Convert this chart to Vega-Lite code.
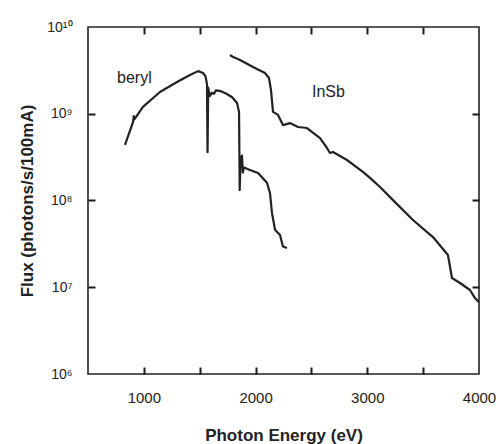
{
  "$schema": "https://vega.github.io/schema/vega-lite/v6.json",
  "width": 391,
  "height": 347,
  "autosize": "none",
  "padding": {"left": 88, "top": 27, "right": 17, "bottom": 70},
  "background": "white",
  "config": {
    "view": {"stroke": "#222", "strokeWidth": 1.6},
    "font": "Liberation Sans",
    "axis": {"grid": false, "domain": false, "ticks": true, "tickColor": "#1a1a1a", "tickWidth": 2, "tickSize": 7, "offset": -7, "labelColor": "#222", "titleColor": "#222", "labelFont": "Liberation Sans", "titleFont": "Liberation Sans"}
  },
  "datasets": {
    "curves": [
      {"series": "beryl", "energy": 831, "flux": 4.37e8},
      {"series": "beryl", "energy": 903, "flux": 8.0e8},
      {"series": "beryl", "energy": 910, "flux": 9.4e8},
      {"series": "beryl", "energy": 915, "flux": 8.6e8},
      {"series": "beryl", "energy": 992, "flux": 1.2e9},
      {"series": "beryl", "energy": 1144, "flux": 1.78e9},
      {"series": "beryl", "energy": 1297, "flux": 2.32e9},
      {"series": "beryl", "energy": 1413, "flux": 2.8e9},
      {"series": "beryl", "energy": 1485, "flux": 3.1e9},
      {"series": "beryl", "energy": 1530, "flux": 2.95e9},
      {"series": "beryl", "energy": 1552, "flux": 2.7e9},
      {"series": "beryl", "energy": 1565, "flux": 2.2e9},
      {"series": "beryl", "energy": 1570, "flux": 3.6e8},
      {"series": "beryl", "energy": 1576, "flux": 2.0e9},
      {"series": "beryl", "energy": 1590, "flux": 1.6e9},
      {"series": "beryl", "energy": 1610, "flux": 1.75e9},
      {"series": "beryl", "energy": 1628, "flux": 1.7e9},
      {"series": "beryl", "energy": 1646, "flux": 1.86e9},
      {"series": "beryl", "energy": 1690, "flux": 1.82e9},
      {"series": "beryl", "energy": 1740, "flux": 1.7e9},
      {"series": "beryl", "energy": 1790, "flux": 1.55e9},
      {"series": "beryl", "energy": 1834, "flux": 1.33e9},
      {"series": "beryl", "energy": 1852, "flux": 1.05e9},
      {"series": "beryl", "energy": 1858, "flux": 1.32e8},
      {"series": "beryl", "energy": 1866, "flux": 3.0e8},
      {"series": "beryl", "energy": 1878, "flux": 3.3e8},
      {"series": "beryl", "energy": 1886, "flux": 2.1e8},
      {"series": "beryl", "energy": 1896, "flux": 2.4e8},
      {"series": "beryl", "energy": 1950, "flux": 2.25e8},
      {"series": "beryl", "energy": 2022, "flux": 2.07e8},
      {"series": "beryl", "energy": 2102, "flux": 1.6e8},
      {"series": "beryl", "energy": 2129, "flux": 1.22e8},
      {"series": "beryl", "energy": 2147, "flux": 7.2e7},
      {"series": "beryl", "energy": 2174, "flux": 4.6e7},
      {"series": "beryl", "energy": 2219, "flux": 4.0e7},
      {"series": "beryl", "energy": 2245, "flux": 2.95e7},
      {"series": "beryl", "energy": 2281, "flux": 2.83e7},
      {"series": "InSb", "energy": 1771, "flux": 4.75e9},
      {"series": "InSb", "energy": 1800, "flux": 4.5e9},
      {"series": "InSb", "energy": 1861, "flux": 4.17e9},
      {"series": "InSb", "energy": 1977, "flux": 3.46e9},
      {"series": "InSb", "energy": 2084, "flux": 2.95e9},
      {"series": "InSb", "energy": 2120, "flux": 2.58e9},
      {"series": "InSb", "energy": 2138, "flux": 1.88e9},
      {"series": "InSb", "energy": 2156, "flux": 1.05e9},
      {"series": "InSb", "energy": 2201, "flux": 9.7e8},
      {"series": "InSb", "energy": 2245, "flux": 7.4e8},
      {"series": "InSb", "energy": 2308, "flux": 7.8e8},
      {"series": "InSb", "energy": 2380, "flux": 7.03e8},
      {"series": "InSb", "energy": 2460, "flux": 6.85e8},
      {"series": "InSb", "energy": 2577, "flux": 5.25e8},
      {"series": "InSb", "energy": 2639, "flux": 4.03e8},
      {"series": "InSb", "energy": 2666, "flux": 3.53e8},
      {"series": "InSb", "energy": 2693, "flux": 3.63e8},
      {"series": "InSb", "energy": 2818, "flux": 2.93e8},
      {"series": "InSb", "energy": 2961, "flux": 2.14e8},
      {"series": "InSb", "energy": 3024, "flux": 1.82e8},
      {"series": "InSb", "energy": 3114, "flux": 1.43e8},
      {"series": "InSb", "energy": 3230, "flux": 1.01e8},
      {"series": "InSb", "energy": 3409, "flux": 5.96e7},
      {"series": "InSb", "energy": 3588, "flux": 3.79e7},
      {"series": "InSb", "energy": 3722, "flux": 2.35e7},
      {"series": "InSb", "energy": 3758, "flux": 1.28e7},
      {"series": "InSb", "energy": 3830, "flux": 1.12e7},
      {"series": "InSb", "energy": 3919, "flux": 9.3e6},
      {"series": "InSb", "energy": 3964, "flux": 7.5e6},
      {"series": "InSb", "energy": 4000, "flux": 6.7e6}
    ],
    "labels": [
      {"label": "beryl", "energy": 760, "flux": 2.58e9},
      {"label": "InSb", "energy": 2505, "flux": 1.78e9}
    ]
  },
  "layer": [
    {
      "data": {"name": "curves"},
      "mark": {"type": "line", "color": "#222", "strokeWidth": 2.2, "strokeJoin": "round"},
      "encoding": {
        "x": {
          "field": "energy", "type": "quantitative",
          "scale": {"domain": [500, 4000], "nice": false, "zero": false},
          "axis": {
            "orient": "bottom", "values": [1000, 1500, 2000, 2500, 3000, 3500],
            "format": "d", "labelExpr": "datum.value % 1000 == 0 ? datum.label : ''",
            "labelPadding": 16, "labelFontSize": 15, "labelFlush": false,
            "title": "Photon Energy (eV)", "titleFontSize": 17, "titleFontWeight": "bold", "titlePadding": 22
          }
        },
        "y": {
          "field": "flux", "type": "quantitative",
          "scale": {"type": "log", "domain": [1e6, 1e10], "nice": false},
          "axis": {
            "orient": "left", "values": [1e7, 1e8, 1e9],
            "labelExpr": "datum.value > 5e8 ? '10⁹' : datum.value > 5e7 ? '10⁸' : '10⁷'",
            "labelPadding": 16, "labelFontSize": 14, "labelFlush": false,
            "title": "Flux (photons/s/100mA)", "titleFontSize": 17, "titleFontWeight": "bold", "titlePadding": 14
          }
        },
        "detail": {"field": "series", "type": "nominal"}
      }
    },
    {
      "data": {"name": "labels"},
      "mark": {"type": "text", "align": "left", "baseline": "middle", "fontSize": 16, "color": "#222", "font": "Liberation Sans"},
      "encoding": {
        "x": {
          "field": "energy", "type": "quantitative",
          "axis": {"orient": "top", "values": [1000, 1500, 2000, 2500, 3000, 3500], "labels": false, "title": null}
        },
        "y": {
          "field": "flux", "type": "quantitative",
          "axis": {"orient": "right", "values": [1e7, 1e8, 1e9], "labels": false, "title": null}
        },
        "text": {"field": "label"}
      }
    },
    {
      "data": {"name": "labels"},
      "mark": {"type": "text", "opacity": 0},
      "encoding": {
        "x": {
          "field": "energy", "type": "quantitative",
          "axis": {"orient": "bottom", "values": [4000], "format": "d", "ticks": false, "offset": 0, "labelPadding": 16, "labelFontSize": 15, "labelFlush": false, "title": null}
        },
        "y": {
          "field": "flux", "type": "quantitative",
          "axis": {"orient": "left", "values": [1e6, 1e10], "ticks": false, "offset": 0,
            "labelExpr": "datum.value > 5e9 ? '10¹⁰' : '10⁶'", "labelPadding": 16, "labelFontSize": 14, "labelFlush": false, "title": null}
        },
        "text": {"field": "label"}
      }
    }
  ],
  "resolve": {"axis": {"x": "independent", "y": "independent"}}
}
